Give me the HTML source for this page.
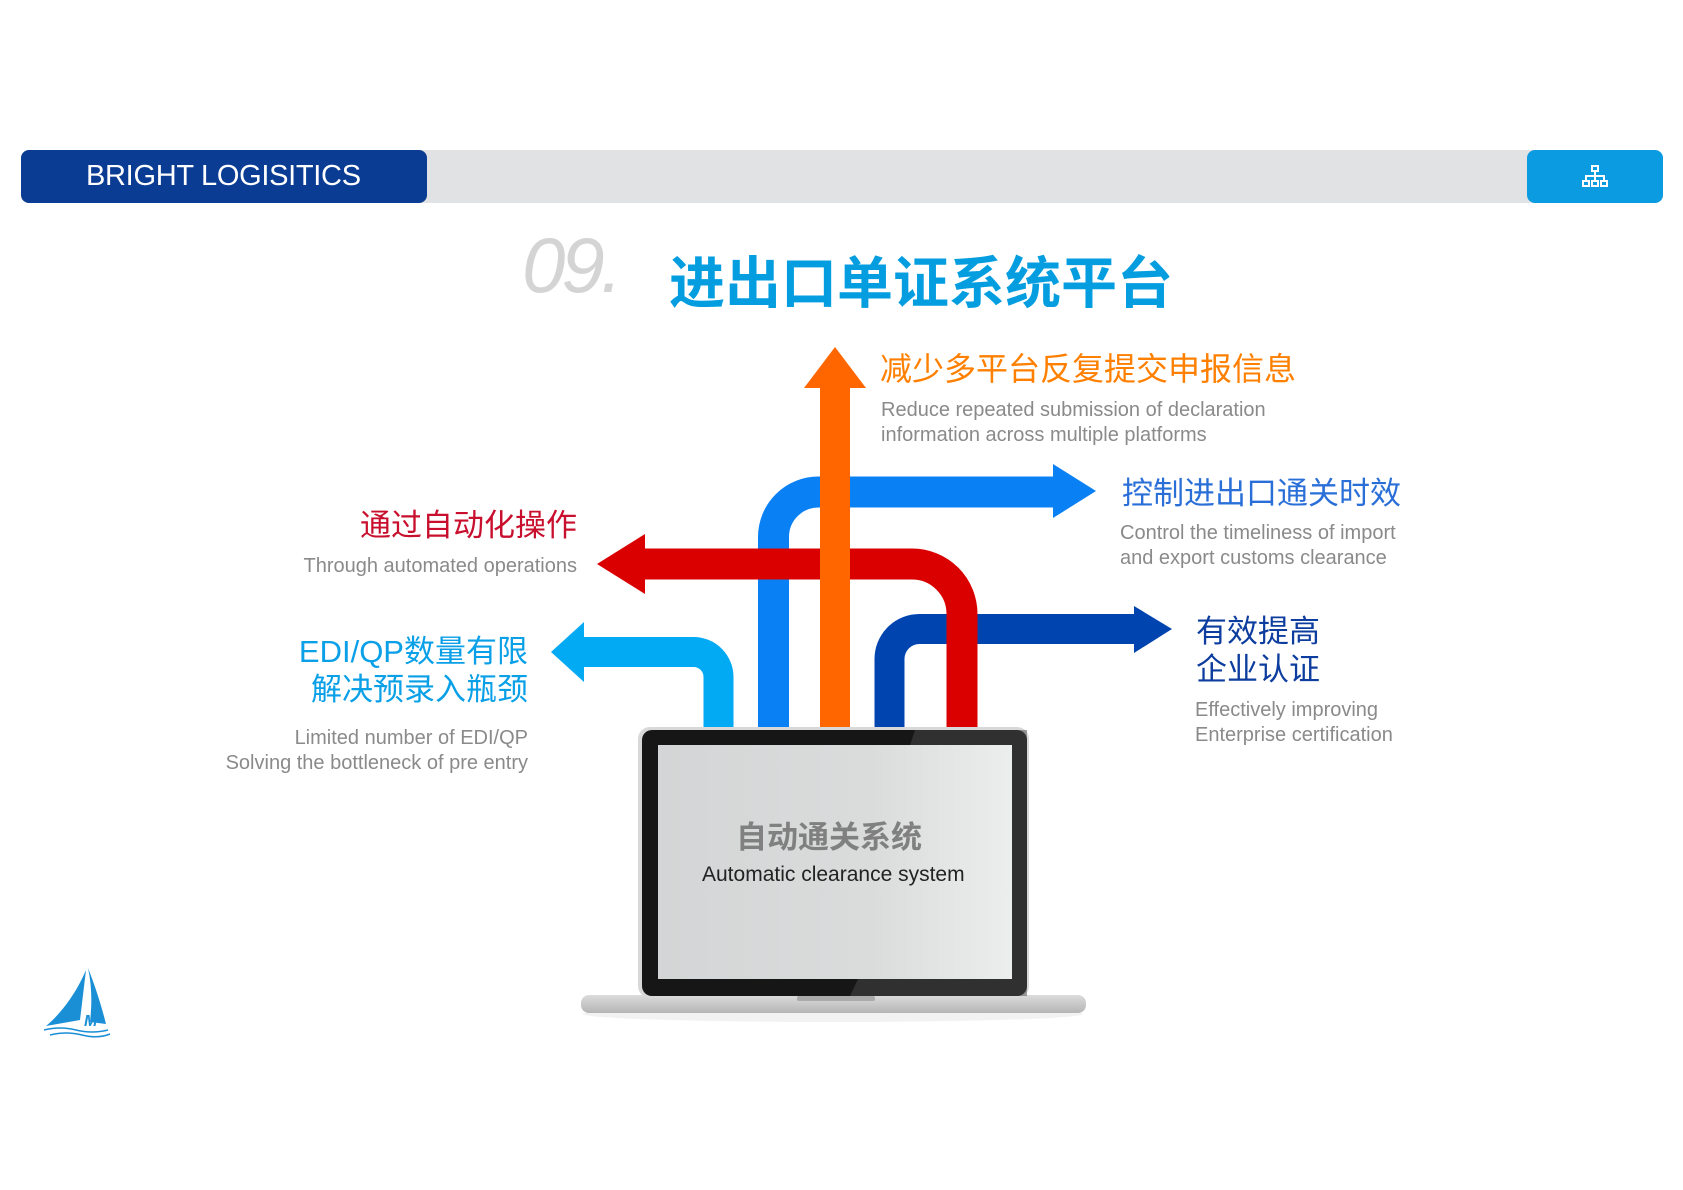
<!DOCTYPE html>
<html><head><meta charset="utf-8"><style>
html,body{margin:0;padding:0;background:#fff;}
body{width:1683px;height:1190px;position:relative;overflow:hidden;font-family:"Liberation Sans","Noto Sans CJK SC",sans-serif;}
.abs{position:absolute;white-space:nowrap;}
.en{color:#8a8a8a;font-size:20px;line-height:25px;}
.cn{font-size:31px;line-height:36px;}
</style></head><body>
<div class="abs" style="left:21px;top:150px;width:1642px;height:53px;background:#e1e2e4;border-radius:8px;"></div>
<div class="abs" style="left:21px;top:150px;width:406px;height:53px;background:#0b3c94;border-radius:8px;"></div>
<div class="abs" style="left:86px;top:150px;line-height:53px;font-size:29px;color:#fff;letter-spacing:-0.3px;">BRIGHT LOGISITICS</div>
<div class="abs" style="left:1527px;top:150px;width:136px;height:53px;background:#0a9be0;border-radius:8px;"></div>
<svg class="abs" style="left:1580px;top:164px" width="30" height="26" viewBox="0 0 30 26">
<g fill="none" stroke="#fff" stroke-width="2"><rect x="12" y="2" width="6" height="5"/><rect x="3" y="17" width="6" height="5"/><rect x="12" y="17" width="6" height="5"/><rect x="21" y="17" width="6" height="5"/><path d="M15 7V17M6 17V12H24V17"/></g></svg>
<div class="abs" style="left:522px;top:222px;font-size:78px;line-height:86px;color:#d4d4d4;font-style:italic;letter-spacing:-4px;">09.</div>
<div class="abs" style="left:669px;top:249px;font-size:56px;line-height:70px;font-weight:bold;color:#049ee0;">进出口单证系统平台</div>

<svg class="abs" style="left:0;top:0" width="1683" height="1190">
<g fill="none" stroke-linejoin="round">
<path d="M773.5 728 V537 A45 45 0 0 1 818.5 492 H1055" stroke="#0a80f5" stroke-width="31"/>
<path d="M889.5 728 V659 A30 30 0 0 1 919.5 629 H1136" stroke="#0044b0" stroke-width="30"/>
<path d="M962 728 V614 A50 50 0 0 0 912 564 H643" stroke="#db0000" stroke-width="31"/>
<path d="M718.5 728 V677 A25 25 0 0 0 693.5 652 H582" stroke="#02aaf4" stroke-width="30"/>
</g>
<polygon points="1053,464 1096,491 1053,518" fill="#0a80f5"/>
<polygon points="1134,606 1172,629 1134,653" fill="#0044b0"/>
<polygon points="645,534 597,564 645,594" fill="#db0000"/>
<polygon points="584,622 551,652 584,682" fill="#02aaf4"/>
<rect x="820" y="386" width="30" height="342" fill="#ff6600"/>
<polygon points="804,388 835,347 866,388" fill="#ff6600"/>
<defs><linearGradient id="base" x1="0" y1="0" x2="0" y2="1"><stop offset="0" stop-color="#dcdcdc"/><stop offset="1" stop-color="#b5b5b5"/></linearGradient>
<linearGradient id="scr" x1="0" y1="0" x2="1" y2="0"><stop offset="0" stop-color="#d3d5d6"/><stop offset="0.6" stop-color="#dadcdc"/><stop offset="1" stop-color="#eceeee"/></linearGradient></defs>
<ellipse cx="833" cy="1014" rx="250" ry="8" fill="#f2f2f2"/>
<rect x="581" y="995" width="505" height="18" rx="8" fill="url(#base)"/>
<rect x="638" y="727" width="391" height="271" rx="12" fill="#d8d8d8"/>
<rect x="642" y="730" width="385" height="266" rx="10" fill="#161616"/>
<rect x="658" y="745" width="354" height="234" fill="url(#scr)"/>
<polygon points="915,730 1027,730 1027,996 850,996 858,979 1012,979 1012,745 910,745" fill="#4a4a4a" opacity="0.5"/>
<rect x="797" y="996" width="78" height="5" rx="2" fill="#aaa"/>
<g transform="translate(44,968)">
<path d="M42 2 C30 30 14 48 2 58 L36 52 Z" fill="#1a8fd6"/>
<path d="M44 0 C52 20 58 40 62 56 L46 54 C48 36 48 18 44 0 Z" fill="#1a8fd6"/>
<text x="40" y="58" font-size="16" font-style="italic" font-weight="bold" fill="#1a8fd6">M</text>
<path d="M0 62 Q16 58 32 62 T64 62 M6 67 Q22 63 38 67 T66 66" stroke="#1a8fd6" stroke-width="1.5" fill="none"/>
</g>
</svg>

<div class="abs" style="left:736px;top:820px;font-size:31px;line-height:36px;font-weight:bold;color:#808080;">自动通关系统</div>
<div class="abs" style="left:702px;top:862px;font-size:21px;line-height:26px;color:#222;">Automatic clearance system</div>

<div class="abs cn" style="left:880px;top:351px;color:#ff8000;font-size:32px;">减少多平台反复提交申报信息</div>
<div class="abs en" style="left:881px;top:398px;">Reduce repeated submission of declaration<br>information across multiple platforms</div>

<div class="abs cn" style="left:1122px;top:476px;color:#2a6fd8;">控制进出口通关时效</div>
<div class="abs en" style="left:1120px;top:521px;">Control the timeliness of import<br>and export customs clearance</div>

<div class="abs cn" style="left:1196px;top:613px;color:#0d3d9e;line-height:38px;">有效提高<br>企业认证</div>
<div class="abs en" style="left:1195px;top:698px;">Effectively improving<br>Enterprise certification</div>

<div class="abs cn" style="right:1106px;top:508px;color:#c8102e;">通过自动化操作</div>
<div class="abs en" style="right:1106px;top:554px;">Through automated operations</div>

<div class="abs cn" style="right:1155px;top:633px;color:#0aa0e8;text-align:right;line-height:38px;">EDI/QP数量有限<br>解决预录入瓶颈</div>
<div class="abs en" style="right:1155px;top:726px;text-align:right;">Limited number of EDI/QP<br>Solving the bottleneck of pre entry</div>
</body></html>
